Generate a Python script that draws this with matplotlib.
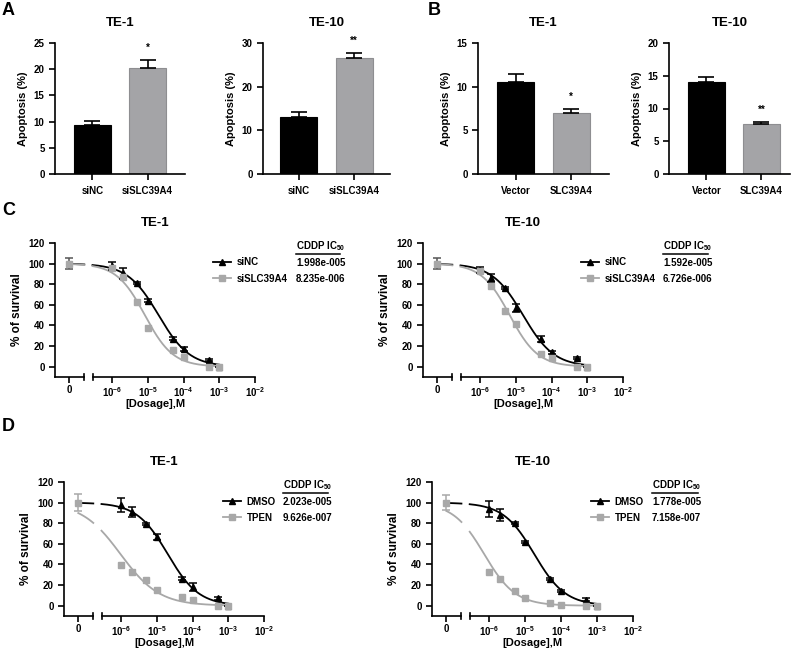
import numpy as np
import matplotlib
matplotlib.use("Agg")
import matplotlib.pyplot as plt
from matplotlib.lines import Line2D
from matplotlib.ticker import NullLocator

plt.rcParams['font.family'] = ['Liberation Sans', 'DejaVu Sans']
plt.rcParams['font.weight'] = 'bold'
plt.rcParams['axes.labelweight'] = 'bold'
plt.rcParams['axes.titleweight'] = 'bold'
plt.rcParams['mathtext.fontset'] = 'custom'
plt.rcParams['mathtext.rm'] = 'Liberation Sans:bold'
plt.rcParams['mathtext.bf'] = 'Liberation Sans:bold'
plt.rcParams['mathtext.default'] = 'bf'

BLACK = '#000000'
GREY = '#a4a4a7'
LGREY = '#a8a8a8'

# ---- panel A / B data (apoptosis %) ----
a_groups = ['siNC', 'siSLC39A4']
a_te1 = [9.3, 20.3]
a_te1_err = [0.8, 1.5]
a_te10 = [13.0, 26.5]
a_te10_err = [1.2, 1.2]

b_groups = ['Vector', 'SLC39A4']
b_te1 = [10.5, 7.0]
b_te1_err = [1.0, 0.5]
b_te10 = [14.0, 7.6]
b_te10_err = [0.8, 0.4]

# ---- panel C / D data (% of survival) ----
doses = [1e-6, 2e-6, 5e-6, 1e-5, 5e-5, 1e-4, 5e-4, 1e-3]
ctrl_pos = 10 ** -7.2   # where the "0" dose sits on the broken axis

c_te1_sinc = [98, 90.5, 81, 64, 27, 17.5, 6.5, 0]
c_te1_sinc_err = [4, 5, 1, 1.5, 1.5, 2, 1, 0]
c_te1_sislc = [96, 87, 63, 38, 16.5, 9, 0, 0]
c_te10_sinc = [94, 86, 76, 57, 27, 14, 8.5, 0]
c_te10_sinc_err = [3, 4, 1, 4, 3, 1.5, 1, 0]
c_te10_sislc = [93, 78, 54, 41, 12, 8.5, 0, 0]

d_te1_dmso = [97.5, 91, 79, 67, 26, 18, 7, 0]
d_te1_dmso_err = [7, 5, 1, 3, 1.5, 4, 1, 0]
d_te1_tpen = [39.5, 32.5, 25, 15, 8.5, 5.5, 0, 0]
d_te10_dmso = [94, 88, 80, 61.5, 26, 14.5, 6, 0]
d_te10_dmso_err = [7.5, 6, 1, 1, 1, 1, 1, 0]
d_te10_tpen = [33, 25.5, 14, 7, 3, 1, 0, 0]

ctrl_mean = 100
c_ctrl_err = [5, 5]
d_ctrl_err = [8, 7]

# IC50 values shown in the tables, and hill slopes of the fitted curves
c_te1_ic50 = [1.998e-5, 8.235e-6]
c_te10_ic50 = [1.592e-5, 6.726e-6]
d_te1_ic50 = [2.023e-5, 9.626e-7]
d_te10_ic50 = [1.778e-5, 7.158e-7]
c_hill = [1.0, 1.1]
d_te1_hill = [1.0, 0.8]
d_te10_hill = [1.0, 1.0]

dose_ticks = [ctrl_pos, 1e-6, 1e-5, 1e-4, 1e-3, 1e-2]
dose_labels = ['0', '$10^{-6}$', '$10^{-5}$', '$10^{-4}$', '$10^{-3}$', '$10^{-2}$']

fig = plt.figure(figsize=(8, 6.5), dpi=100)
W, H = 800.0, 650.0


def rect(x0, x1, ytop, ybot):
    return [x0 / W, 1 - ybot / H, (x1 - x0) / W, (ybot - ytop) / H]


def style(ax):
    for s in ['top', 'right']:
        ax.spines[s].set_visible(False)
    for s in ['left', 'bottom']:
        ax.spines[s].set_linewidth(1.2)
    ax.tick_params(width=1.2, length=4, labelsize=7)


def bar_panel(r, title, groups, vals, errs, ymax, ystep, xlim, stars):
    ax = fig.add_axes(r)
    style(ax)
    x = np.arange(len(groups))
    ax.bar(x, vals, width=0.67, color=[BLACK, GREY], edgecolor=[BLACK, '#8e8e91'], lw=0.8)
    ax.errorbar(x, vals, yerr=[[0, 0], errs], fmt='none', ecolor=BLACK,
                elinewidth=1.2, capsize=6, capthick=1.2)
    ax.annotate(stars, (x[1], vals[1] + errs[1]), xytext=(0, 5), textcoords='offset points',
                ha='center', va='bottom', fontsize=7)
    ax.set_xticks(x, groups)
    ax.tick_params(axis='x', length=4, pad=5)
    ax.set_xlim(*xlim)
    ax.set_ylim(0, ymax)
    ax.set_yticks(np.arange(0, ymax + 0.1, ystep))
    ax.set_ylabel('Apoptosis (%)', fontsize=8, labelpad=4)
    ax.set_title(title, fontsize=9.5, pad=12)
    return ax


def fit(x, ic50, hill):
    return 100 / (1 + (x / ic50) ** hill)


def dose_panel(r, title, names, black, black_err, grey, ctrl_err, ctrl_col, ic50, hill,
               leg_x, tab_x, tab_x1):
    ax = fig.add_axes(r)
    style(ax)
    ax.spines['bottom'].set_visible(False)
    ax.set_xscale('log')
    ax.set_xlim(10 ** -7.6, 1e-2)
    ax.set_ylim(-10, 120)
    ax.set_yticks(range(0, 121, 20))
    ax.set_xticks(dose_ticks, dose_labels)
    ax.xaxis.set_minor_locator(NullLocator())
    ax.tick_params(axis='x', pad=2)
    # broken x axis
    seg1 = [10 ** -7.6, 10 ** -6.8]
    seg2 = [10 ** -6.53, 1e-2]
    for seg in (seg1, seg2):
        ax.plot(seg, [-10, -10], color=BLACK, lw=1.2, clip_on=False)
    for xb in (seg1[1], seg2[0]):
        ax.plot([xb, xb], [-13, -7], color=BLACK, lw=1.2, clip_on=False)

    xs1 = np.logspace(-7.2, -6.78, 30)
    xs2 = np.logspace(-6.55, -3, 200)
    for col, ic, h in ((BLACK, ic50[0], hill[0]), (LGREY, ic50[1], hill[1])):
        ax.plot(xs1, fit(xs1, ic, h), color=col, lw=1.3)
        ax.plot(xs2, fit(xs2, ic, h), color=col, lw=1.3)

    ax.errorbar(doses, black, yerr=black_err, fmt='^', color=BLACK, ms=5,
                elinewidth=1.1, capsize=3, capthick=1.1, zorder=3)
    ax.plot(doses, grey, 's', color=LGREY, ms=5, zorder=4)
    ax.errorbar([ctrl_pos], [ctrl_mean], yerr=[ctrl_err], fmt='s', color=LGREY,
                ecolor=ctrl_col, ms=5, elinewidth=1.1, capsize=3, capthick=1.1, zorder=4)

    ax.set_ylabel('% of survival', fontsize=8.5, labelpad=4)
    ax.set_xlabel('[Dosage],M', fontsize=8, labelpad=0)
    ax.set_title(title, fontsize=9.5, pad=12)

    handles = [Line2D([], [], color=BLACK, marker='^', ms=5, lw=1.3),
               Line2D([], [], color=LGREY, marker='s', ms=5, lw=1.3)]
    ytop = (1 - (r[1] + r[3])) * H
    row1 = ytop + 20
    ax.legend(handles, names, loc='upper left', bbox_to_anchor=(leg_x / W, 1 - (row1 - 5.5) / H),
              bbox_transform=fig.transFigure, frameon=False, fontsize=7, handlelength=1.8,
              handletextpad=0.65, labelspacing=0.62, borderpad=0, borderaxespad=0)
    fig.text(tab_x / W, 1 - (ytop + 3) / H, 'CDDP IC$_{50}$', fontsize=7, ha='left', va='center')
    fig.add_artist(Line2D([tab_x / W, tab_x1 / W], [1 - (ytop + 11) / H] * 2,
                          color=BLACK, lw=1.1))
    for i, v in enumerate(ic50):
        s = '%.3e' % v
        s = s[:-2] + '0' + s[-2:]
        fig.text(tab_x / W, 1 - (row1 + 16 * i) / H, s, fontsize=7, ha='left', va='center')
    return ax


# panel A
bar_panel(rect(55, 185, 43, 174), 'TE-1', a_groups, a_te1, a_te1_err, 25, 5, (-0.68, 1.68), '*')
bar_panel(rect(263, 390, 43, 174), 'TE-10', a_groups, a_te10, a_te10_err, 30, 10, (-0.65, 1.65), '**')
# panel B
bar_panel(rect(478, 609, 43, 174), 'TE-1', b_groups, b_te1, b_te1_err, 15, 5, (-0.68, 1.68), '*')
bar_panel(rect(669, 790, 43, 174), 'TE-10', b_groups, b_te10, b_te10_err, 20, 5, (-0.68, 1.52), '**')

# panel C
dose_panel(rect(55, 255, 243, 377), 'TE-1', ['siNC', 'siSLC39A4'], c_te1_sinc, c_te1_sinc_err,
           c_te1_sislc, c_ctrl_err[0], '#555555', c_te1_ic50, c_hill, 213, 296, 340)
dose_panel(rect(423, 623, 243, 377), 'TE-10', ['siNC', 'siSLC39A4'], c_te10_sinc, c_te10_sinc_err,
           c_te10_sislc, c_ctrl_err[1], '#555555', c_te10_ic50, c_hill, 581, 663, 708)
# panel D
dose_panel(rect(64, 264, 482, 616), 'TE-1', ['DMSO', 'TPEN'], d_te1_dmso, d_te1_dmso_err,
           d_te1_tpen, d_ctrl_err[0], LGREY, d_te1_ic50, d_te1_hill, 223, 283, 328)
dose_panel(rect(432, 633, 482, 616), 'TE-10', ['DMSO', 'TPEN'], d_te10_dmso, d_te10_dmso_err,
           d_te10_tpen, d_ctrl_err[1], LGREY, d_te10_ic50, d_te10_hill, 591, 652, 698)

for letter, xp, yp in (('A', 2, 2), ('B', 428, 2), ('C', 2, 202), ('D', 2, 418)):
    fig.text(xp / W, 1 - yp / H, letter, fontsize=13, ha='left', va='top', weight='bold')

fig.savefig('out.png', dpi=100)
